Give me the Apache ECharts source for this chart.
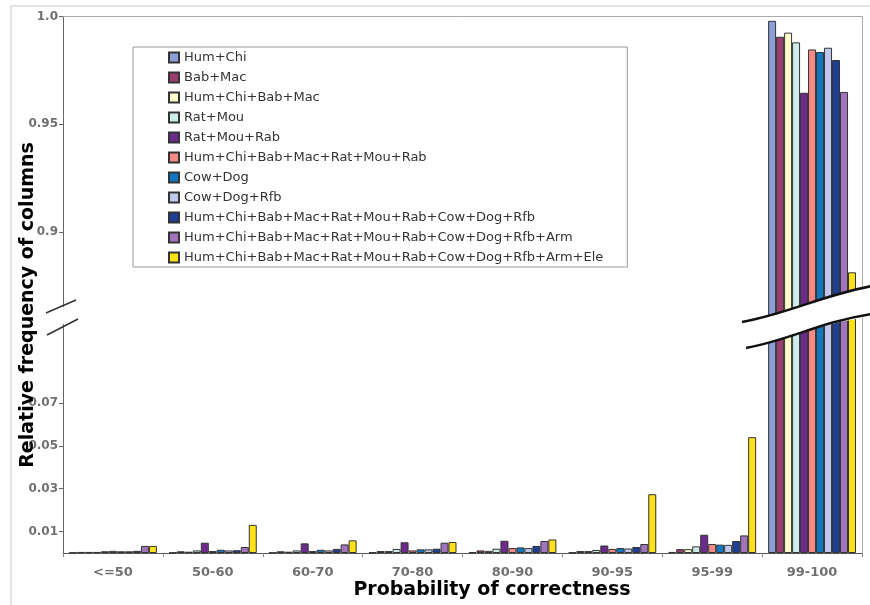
<!DOCTYPE html>
<html>
<head>
<meta charset="utf-8">
<script src="https://cdn.jsdelivr.net/npm/echarts@6/dist/echarts.min.js"></script>
<style>html,body{margin:0;padding:0;background:#fff;}#c{width:870px;height:605px;}</style>
</head>
<body>
<div id="c"></div>
<script>
const categories = ['<=50','50-60','60-70','70-80','80-90','90-95','95-99','99-100'];
const seriesNames = ['Hum+Chi','Bab+Mac','Hum+Chi+Bab+Mac','Rat+Mou','Rat+Mou+Rab','Hum+Chi+Bab+Mac+Rat+Mou+Rab','Cow+Dog','Cow+Dog+Rfb','Hum+Chi+Bab+Mac+Rat+Mou+Rab+Cow+Dog+Rfb','Hum+Chi+Bab+Mac+Rat+Mou+Rab+Cow+Dog+Rfb+Arm','Hum+Chi+Bab+Mac+Rat+Mou+Rab+Cow+Dog+Rfb+Arm+Ele'];
const humChi      = [0.0002,0.0002,0.0002,0.0003,0.0004,0.0003,0.0005,0.998];
const babMac      = [0.0005,0.0008,0.0008,0.0009,0.0012,0.0009,0.0018,0.9906];
const hcbm        = [0.0005,0.0006,0.0006,0.0009,0.0010,0.0009,0.0018,0.9925];
const ratMou      = [0.0005,0.0012,0.0012,0.0019,0.0020,0.0014,0.0031,0.988];
const ratMouRab   = [0.0008,0.0048,0.0045,0.0050,0.0057,0.0035,0.0085,0.9646];
const hcbmrmr     = [0.0010,0.0009,0.0009,0.0012,0.0023,0.0019,0.0042,0.9847];
const cowDog      = [0.0008,0.0015,0.0015,0.0017,0.0026,0.0023,0.0039,0.9835];
const cowDogRfb   = [0.0008,0.0012,0.0012,0.0017,0.0023,0.0021,0.0038,0.9855];
const hcbmrmrcdr  = [0.0010,0.0013,0.0019,0.0020,0.0033,0.0028,0.0056,0.9798];
const plusArm     = [0.0033,0.0028,0.0040,0.0048,0.0056,0.0042,0.0082,0.965];
const plusEle     = [0.0033,0.0131,0.0059,0.0051,0.0063,0.0274,0.054,0.8813];
const upperTicks = [0.9,0.95,1.0];
const lowerTicks = [0.01,0.03,0.05,0.07];

const allData = [humChi,babMac,hcbm,ratMou,ratMouRab,hcbmrmr,cowDog,cowDogRfb,hcbmrmrcdr,plusArm,plusEle];
const colors = ['#8C9FD6','#9A3E70','#FFFCCC','#CCEDEA','#6C2B8C','#F78A86','#0F78C0','#BDC8EC','#1E3F93','#A274BE','#FFE11A'];

const upperMin = 0.86102, upperMax = 1.0;
const lowerMin = 0, lowerMax = 0.11049;

const series = [];
seriesNames.forEach((n,i)=>{
  const style = {color: colors[i], borderColor:'#333', borderWidth:1};
  series.push({name:n,type:'bar',xAxisIndex:1,yAxisIndex:1,barGap:'0%',barCategoryGap:'12%',
    data: allData[i], itemStyle: style, animation:false});
  series.push({name:n,type:'bar',xAxisIndex:0,yAxisIndex:0,barGap:'0%',barCategoryGap:'12%',
    data: allData[i].map(v => v >= upperMin ? v : '-'), itemStyle: style, animation:false});
});

const labelStyle = {color:'#707070', fontFamily:'DejaVu Sans', fontWeight:'bold', fontSize:12};
const chart = echarts.init(document.getElementById('c'), null, {renderer:'canvas'});
chart.setOption({
  animation:false,
  backgroundColor:'#fff',
  grid:[
    {left:63, right:8, top:16.5, bottom:605-316},
    {left:63, right:8, top:316, bottom:52}
  ],
  legend:{
    data: seriesNames,
    orient:'vertical', left:133, top:47,
    padding:[4,24,3,35],
    borderColor:'#999', borderWidth:1,
    itemWidth:10, itemHeight:10, itemGap:7,
    icon:'rect',
    textStyle:{fontFamily:'DejaVu Sans', fontSize:13, color:'#333'}
  },
  xAxis:[
    {type:'category', gridIndex:0, data:categories, position:'top',
      axisLine:{show:true, lineStyle:{color:'#aaa'}}, axisTick:{show:false}, axisLabel:{show:false}},
    {type:'category', gridIndex:1, data:categories,
      axisLine:{show:true, lineStyle:{color:'#555'}},
      axisTick:{show:true, length:4, lineStyle:{color:'#888'}},
      axisLabel:Object.assign({}, labelStyle, {margin:13, fontSize:13})}
  ],
  yAxis:[
    {type:'value', gridIndex:0, min:upperMin, max:upperMax,
      axisLine:{show:true, lineStyle:{color:'#666'}},
      axisTick:{show:true, length:4, customValues:upperTicks, lineStyle:{color:'#666'}},
      axisLabel:Object.assign({margin:5, customValues:upperTicks, formatter:v => v===1 ? '1.0' : String(v)}, labelStyle),
      splitLine:{show:false}},
    {type:'value', gridIndex:1, min:lowerMin, max:lowerMax,
      axisLine:{show:true, lineStyle:{color:'#666'}},
      axisTick:{show:true, length:4, customValues:lowerTicks, lineStyle:{color:'#666'}},
      axisLabel:Object.assign({margin:5, customValues:lowerTicks, formatter:v => String(v)}, labelStyle),
      splitLine:{show:false}},
    {type:'value', gridIndex:0, position:'right', min:upperMin, max:upperMax,
      axisLine:{show:true, lineStyle:{color:'#aaa'}}, axisTick:{show:false}, axisLabel:{show:false}, splitLine:{show:false}},
    {type:'value', gridIndex:1, position:'right', min:lowerMin, max:lowerMax,
      axisLine:{show:true, lineStyle:{color:'#aaa'}}, axisTick:{show:false}, axisLabel:{show:false}, splitLine:{show:false}}
  ],
  series: series,
  graphic:[
    {type:'rect', silent:true, z:-10, shape:{x:11, y:6, width:900, height:700}, style:{fill:'none', stroke:'#c8c8c8', lineWidth:1}},
    // left axis break
    {type:'rect', z:100, shape:{x:58, y:307, width:10, height:17}, style:{fill:'#fff'}},
    {type:'line', z:101, shape:{x1:46, y1:313, x2:76, y2:300}, style:{stroke:'#333', lineWidth:1.5}},
    {type:'line', z:101, shape:{x1:47, y1:335, x2:78, y2:319}, style:{stroke:'#333', lineWidth:1.5}},
    // bar break band
    {type:'polygon', z:100, shape:{points:[[742,322],[775,315],[807,304],[840,294],[872,286],[872,316],[840,322],[807,331],[775,341],[746,348]]}, style:{fill:'#fff'}},
    {type:'bezierCurve', z:101, shape:{x1:742, y1:322, cpx1:790, cpy1:313, cpx2:820, cpy2:296, x2:872, y2:286}, style:{stroke:'#111', lineWidth:2.5, fill:'none'}},
    {type:'bezierCurve', z:101, shape:{x1:746, y1:348, cpx1:790, cpy1:340, cpx2:820, cpy2:322, x2:872, y2:314}, style:{stroke:'#111', lineWidth:2.5, fill:'none'}},
    // titles
    {type:'text', z:102, x:28, y:305, rotation:Math.PI/2,
      style:{text:'Relative frequency of columns', fill:'#000', font:'bold 19px "DejaVu Sans"', textAlign:'center', textVerticalAlign:'middle'}},
    {type:'text', z:102, x:492, y:590,
      style:{text:'Probability of correctness', fill:'#000', font:'bold 19px "DejaVu Sans"', textAlign:'center', textVerticalAlign:'middle'}}
  ]
});
</script>
</body>
</html>
